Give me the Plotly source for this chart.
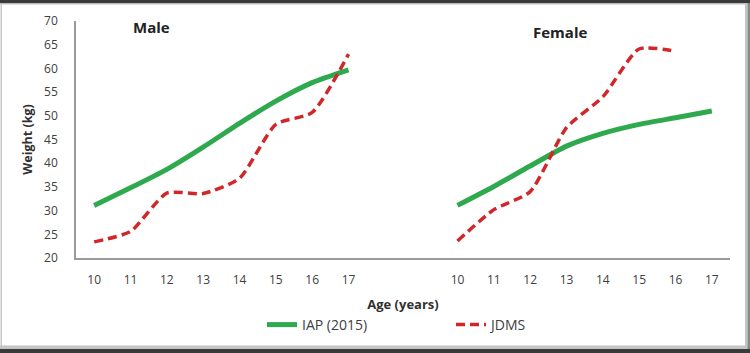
import plotly.graph_objects as go

ages = [10, 11, 12, 13, 14, 15, 16, 17]
male_iap = [31.1, 34.8, 38.7, 43.4, 48.4, 53.1, 57.0, 59.7]
male_jdms = [23.4, 25.6, 33.7, 33.6, 36.8, 48.2, 50.7, 63.0]
female_iap = [31.1, 35.1, 39.4, 43.6, 46.3, 48.2, 49.6, 51.0]
female_jdms = [23.6, 30.2, 34.0, 47.5, 54.0, 64.1, 63.6, None]

GAP = 2  # blank categories between the two panels
male_x = list(range(len(ages)))
female_x = [len(ages) + GAP + i for i in range(len(ages))]
all_x = male_x + female_x
tick_text = [str(a) for a in ages] * 2

W, H = 750, 353
L, R, T, B = 76, 730, 21, 258
PW, PH = R - L, B - T

def px(x):
    return (x - L) / PW

def py(y):
    return (B - y) / PH

GREEN = "#2ea94e"
RED = "#d0272b"

fig = go.Figure()
fig.add_trace(go.Scatter(
    x=male_x + [None] + female_x,
    y=male_iap + [None] + female_iap,
    mode="lines", name="IAP (2015)",
    line=dict(color=GREEN, width=5, shape="spline", smoothing=0.6),
    connectgaps=False,
))
fig.add_trace(go.Scatter(
    x=male_x + [None] + female_x,
    y=male_jdms + [None] + female_jdms,
    mode="lines", name="JDMS",
    line=dict(color=RED, width=3.5, dash="9px,5px", shape="spline", smoothing=0.6),
    connectgaps=False,
))

shapes = [
    # outer frame
    dict(type="rect", xref="paper", yref="paper", x0=px(0), x1=px(W), y0=py(0), y1=py(3),
         fillcolor="#3a3a3a", line=dict(width=0), layer="above"),
    dict(type="rect", xref="paper", yref="paper", x0=px(0), x1=px(W), y0=py(3), y1=py(4.5),
         fillcolor="#bdbdbd", line=dict(width=0), layer="above"),
    dict(type="rect", xref="paper", yref="paper", x0=px(0), x1=px(W), y0=py(349), y1=py(353),
         fillcolor="#3a3a3a", line=dict(width=0), layer="above"),
    dict(type="rect", xref="paper", yref="paper", x0=px(0), x1=px(W), y0=py(345.5), y1=py(349),
         fillcolor="#c4c4c4", line=dict(width=0), layer="above"),
    dict(type="rect", xref="paper", yref="paper", x0=px(745), x1=px(747.5), y0=py(3), y1=py(349),
         fillcolor="#c4c4c4", line=dict(width=0), layer="above"),
    dict(type="rect", xref="paper", yref="paper", x0=px(747.5), x1=px(750), y0=py(3), y1=py(349),
         fillcolor="#8a8a8a", line=dict(width=0), layer="above"),
    dict(type="rect", xref="paper", yref="paper", x0=px(0.5), x1=px(2), y0=py(4), y1=py(346),
         fillcolor="#c8c8c8", line=dict(width=0), layer="above"),
]

fig.update_layout(
    width=W, height=H,
    margin=dict(l=L, r=W - R, t=T, b=H - B, pad=0),
    paper_bgcolor="white", plot_bgcolor="white",
    font=dict(family="Open Sans", size=12, color="#404040"),
    showlegend=True,
    legend=dict(orientation="h", x=px(262), xanchor="left", y=py(325), yanchor="middle",
                font=dict(size=14, color="#404040"), entrywidth=144, itemwidth=30,
                bgcolor="rgba(0,0,0,0)"),
    xaxis=dict(
        range=[-0.5, len(all_x) + GAP - 0.5],
        tickmode="array", tickvals=all_x, ticktext=tick_text,
        showgrid=False, zeroline=False,
        showline=True, linecolor="#9a9a9a", linewidth=1.5,
        ticks="", ticklabelstandoff=10,
        title=dict(text="<b>Age (years)</b>", font=dict(size=13, color="#303030"), standoff=13),
    ),
    yaxis=dict(
        range=[20, 70], dtick=5, tick0=20,
        showgrid=False, zeroline=False,
        showline=True, linecolor="#9a9a9a", linewidth=1.5,
        ticks="", ticklabelstandoff=14,
        title=dict(text="<b>Weight (kg)</b>", font=dict(size=12.5, color="#303030"), standoff=9),
    ),
    shapes=shapes,
    annotations=[
        dict(text="<b>Male</b>", xref="paper", yref="paper", x=px(151), y=py(27),
             xanchor="center", yanchor="middle",
             showarrow=False, font=dict(size=15, color="#222222")),
        dict(text="<b>Female</b>", xref="paper", yref="paper", x=px(560), y=py(32),
             xanchor="center", yanchor="middle",
             showarrow=False, font=dict(size=15, color="#222222")),
    ],
)

fig.write_html("out.html")
